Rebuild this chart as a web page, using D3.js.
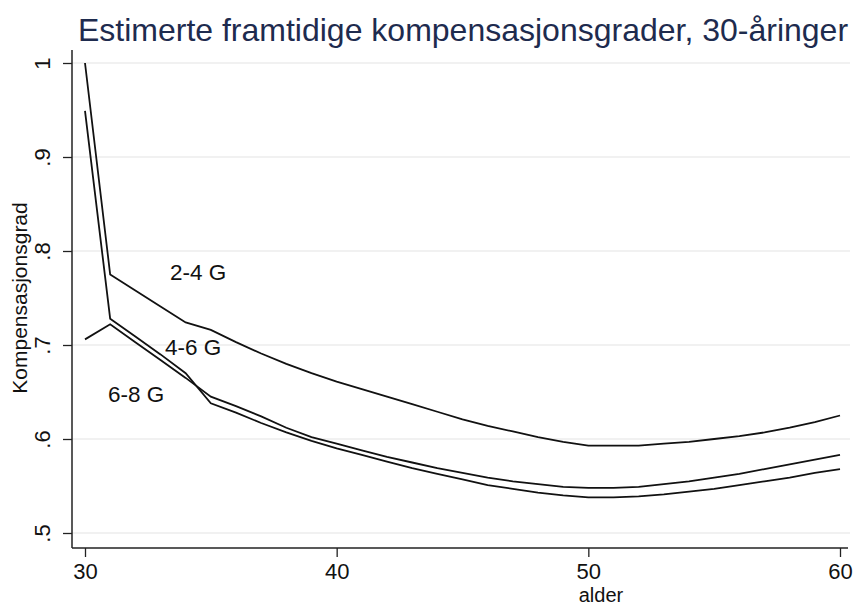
<!DOCTYPE html>
<html>
<head>
<meta charset="utf-8">
<script src="https://cdn.jsdelivr.net/npm/d3@7"></script>
<style>
  html, body { margin: 0; padding: 0; background: #fff; }
  svg { display: block; font-family: "Liberation Sans", Arial, sans-serif; }
</style>
</head>
<body>
<svg id="chart" width="856" height="606"></svg>
<script>
const ages = d3.range(30, 61);
const seriesNames = ["2-4 G", "4-6 G", "6-8 G"];
const s24 = [1.000, 0.775, 0.758, 0.741, 0.724, 0.716, 0.703, 0.691, 0.680, 0.670,
             0.661, 0.653, 0.645, 0.637, 0.629, 0.621, 0.614, 0.608, 0.602, 0.597,
             0.593, 0.593, 0.593, 0.595, 0.597, 0.600, 0.603, 0.607, 0.612, 0.618, 0.625];
const s46 = [0.949, 0.728, 0.709, 0.690, 0.670, 0.638, 0.628, 0.617, 0.607, 0.598,
             0.590, 0.583, 0.576, 0.569, 0.563, 0.557, 0.551, 0.547, 0.543, 0.540,
             0.538, 0.538, 0.539, 0.541, 0.544, 0.547, 0.551, 0.555, 0.559, 0.564, 0.568];
const s68 = [0.706, 0.722, 0.703, 0.684, 0.665, 0.645, 0.635, 0.624, 0.612, 0.602,
             0.595, 0.588, 0.581, 0.575, 0.569, 0.564, 0.559, 0.555, 0.552, 0.549,
             0.548, 0.548, 0.549, 0.552, 0.555, 0.559, 0.563, 0.568, 0.573, 0.578, 0.583];
const xTicks = [30, 40, 50, 60];
const yTicks = [0.5, 0.6, 0.7, 0.8, 0.9, 1.0];
const yTickLabels = [".5", ".6", ".7", ".8", ".9", "1"];
const labelAges = [33.38, 33.18, 30.91];
const labelValues = [0.769, 0.689, 0.639];
const titleText = "Estimerte framtidige kompensasjonsgrader, 30-åringer";
const xTitle = "alder";
const yTitle = "Kompensasjonsgrad";

const svg = d3.select("#chart");
const x = d3.scaleLinear().domain([30, 60]).range([85, 840]);
const y = d3.scaleLinear().domain([0.5, 1.0]).range([533, 63]);
const plotLeft = 72, plotRight = 850, plotBottom = 548, plotTop = 50;

// gridlines
svg.append("g").selectAll("line").data(yTicks).join("line")
  .attr("x1", plotLeft).attr("x2", plotRight)
  .attr("y1", d => y(d)).attr("y2", d => y(d))
  .attr("stroke", "#ececec").attr("stroke-width", 1.5);

// y axis
const yAxis = svg.append("g").attr("transform", `translate(${plotLeft},0)`)
  .call(d3.axisLeft(y).tickValues(yTicks).tickSize(9).tickPadding(20)
    .tickFormat((d, i) => yTickLabels[i]));
yAxis.select(".domain").attr("d", `M0,${plotTop}V${plotBottom}`).attr("stroke", "#222").attr("stroke-width", 1.5);
yAxis.selectAll(".tick line").attr("stroke", "#222").attr("stroke-width", 1.3);
yAxis.selectAll(".tick text")
  .attr("font-size", 22).attr("fill", "#111")
  .attr("text-anchor", "middle")
  .attr("x", 0).attr("dy", 0)
  .attr("transform", "translate(-30,0) rotate(-90)")
  .attr("dominant-baseline", "central");

// x axis
const xAxis = svg.append("g").attr("transform", `translate(0,${plotBottom})`)
  .call(d3.axisBottom(x).tickValues(xTicks).tickSize(9).tickPadding(6)
    .tickFormat(d3.format("d")));
xAxis.select(".domain").attr("d", `M${plotLeft},0H${plotRight - 2}`).attr("stroke", "#222").attr("stroke-width", 1.5);
xAxis.selectAll(".tick line").attr("stroke", "#222").attr("stroke-width", 1.3);
xAxis.selectAll(".tick text").attr("font-size", 22).attr("fill", "#111");

// lines
const allSeries = [s24, s46, s68];
const line = d3.line().x((d, i) => x(ages[i])).y(d => y(d));
svg.append("g").selectAll("path").data(allSeries).join("path")
  .attr("d", d => line(d))
  .attr("fill", "none").attr("stroke", "#111").attr("stroke-width", 1.8)
  .attr("stroke-linejoin", "miter");

// line labels
svg.append("g").selectAll("text").data(seriesNames).join("text")
  .attr("x", (d, i) => x(labelAges[i]))
  .attr("y", (d, i) => y(labelValues[i]))
  .attr("font-size", 22.5).attr("fill", "#111")
  .text(d => d);

// titles
svg.append("text").attr("x", 463).attr("y", 41).attr("text-anchor", "middle")
  .attr("font-size", 32).attr("fill", "#1e2b4e").text(titleText);
svg.append("text").attr("x", 601).attr("y", 601.5).attr("text-anchor", "middle")
  .attr("font-size", 20).attr("fill", "#111").text(xTitle);
svg.append("text").attr("transform", `translate(27,${(y(0.5) + y(1)) / 2}) rotate(-90)`)
  .attr("text-anchor", "middle").attr("font-size", 21).attr("fill", "#111").text(yTitle);
</script>
</body>
</html>
